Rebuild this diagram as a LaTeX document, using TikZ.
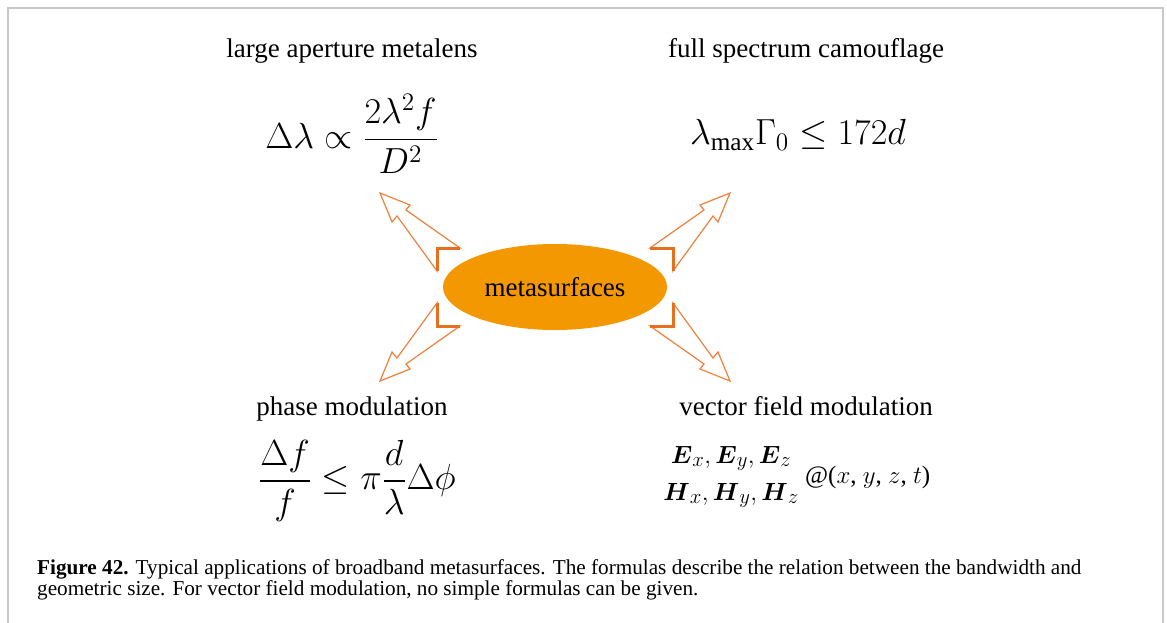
\documentclass[tikz,border=0pt]{standalone}
\usepackage{amsmath}
\usepackage{fontspec}
\setmainfont{Liberation Serif}
\usepackage{tikz}
\usetikzlibrary{shapes.geometric, calc}
\definecolor{msorange}{RGB}{243,152,0}
\definecolor{arrline}{RGB}{238,128,60}
\definecolor{brkline}{RGB}{230,112,30}
\definecolor{framegray}{RGB}{200,200,200}
\newcommand{\bigeq}[1]{\scalebox{1.75}{#1}}
\tikzset{
  lbl/.style={anchor=base, font=\fontsize{27}{32}\selectfont},
  eqn/.style={font=\fontsize{20.74}{25}\selectfont, inner sep=0pt},
  capline/.style={anchor=base west, inner sep=0pt, font=\fontsize{21.2}{24}\selectfont}
}
\begin{document}
\begin{tikzpicture}[x=1pt, y=-1pt]
    \useasboundingbox (0,0) rectangle (1167,623);
    %--- FRAME ---
    \draw[framegray, line width=2pt] (8,623) -- (8,8) -- (1163,8) -- (1163,623);
    %--- CENTRE ---
    \node[ellipse, fill=msorange, minimum width=224pt, minimum height=86pt, inner sep=0pt,
          font=\fontsize{27}{32}\selectfont] (ms) at (555,287) {metasurfaces};
    \foreach \sx/\sy in {1/1, -1/1, 1/-1, -1/-1}{
      \begin{scope}[shift={(ms.center)}, xscale=\sx, yscale=\sy]
        \draw[arrline, line width=1.2pt, fill=white, line join=miter]
          (-118,-39) -- (-95,-39) -- (-149,-77) -- (-145,-82) -- (-175,-94)
          -- (-163,-65) -- (-158,-71) -- (-118,-16) -- cycle;
        \draw[brkline, line width=3pt] (-95,-39) -- (-118,-39) -- (-118,-16);
      \end{scope}
    }
    %--- LARGE APERTURE METALENS ---
    \node[lbl] (lens) at (352,58) {large aperture metalens};
    \node[eqn] (lenseq) at (352,134) {\bigeq{$\displaystyle \Delta\lambda \propto \frac{2\lambda^2 f}{D^2}$}};
    %--- CAMOUFLAGE ---
    \node[lbl] (camo) at (806,58) {full spectrum camouflage};
    \node[eqn, anchor=base] (camoeq) at (798,145) {\bigeq{$\lambda_{\max}\Gamma_0 \le 172d$}};
    %--- PHASE MODULATION ---
    \node[lbl] (phase) at (352,415) {phase modulation};
    \node[eqn] (phaseeq) at (357,481) {\bigeq{$\displaystyle \frac{\Delta f}{f} \le \pi\frac{d}{\lambda}\Delta\phi$}};
    %--- VECTOR FIELD MODULATION ---
    \node[lbl] (vec) at (806,415) {vector field modulation};
    \node[anchor=base, inner sep=0pt, font=\fontsize{24.88}{30}\selectfont] (efield) at (731,463)
      {$\boldsymbol{E}_x, \boldsymbol{E}_y, \boldsymbol{E}_z$};
    \node[anchor=base, inner sep=0pt, font=\fontsize{24.88}{30}\selectfont] (hfield) at (731,500)
      {$\boldsymbol{H}_x, \boldsymbol{H}_y, \boldsymbol{H}_z$};
    \node[anchor=base west, inner sep=0pt, font=\fontsize{25}{30}\selectfont] (coord) at (805,483)
      {@($x$, $y$, $z$, $t$)};
    %--- CAPTION ---
    \node[capline] (cap1) at (37,574) {\textbf{Figure 42.} Typical applications of broadband metasurfaces. The formulas describe the relation between the bandwidth and};
    \node[capline] (cap2) at (37,595) {geometric size. For vector field modulation, no simple formulas can be given.};
\end{tikzpicture}
\end{document}
